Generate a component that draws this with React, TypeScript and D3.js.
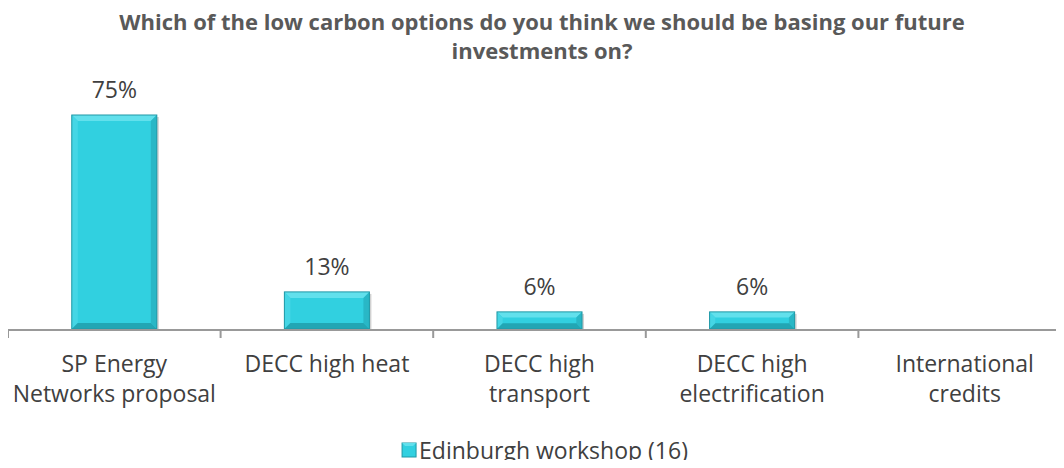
import * as React from "react";
import * as d3 from "d3";

const categories = [
  ["SP Energy", "Networks proposal"],
  ["DECC high heat"],
  ["DECC high", "transport"],
  ["DECC high", "electrification"],
  ["International", "credits"],
];
const values = [75, 13, 6, 6, null];
const seriesName = "Edinburgh workshop (16)";
const titleLines = [
  "Which of the low carbon options do you think we should be basing our future",
  "investments on?",
];

const W = 1064;
const H = 468;
const FONT = "'Open Sans', 'Liberation Sans', sans-serif";

function drawChart(svgRef: React.RefObject<SVGSVGElement>) {
  const svg = d3.select(svgRef.current);
  svg.selectAll("*").remove();
  svg.attr("width", W).attr("height", H).style("display", "block");

  const base = 329;
  const x = d3
    .scaleBand()
    .domain(categories.map((_, i) => `${i}`))
    .range([8, 1071])
    .padding(0);
  const y = d3.scaleLinear().domain([0, 75]).range([base, 115]);

  // title
  svg
    .append("g")
    .selectAll("text")
    .data(titleLines)
    .join("text")
    .attr("x", 542)
    .attr("y", (d, i) => 30 + i * 29)
    .attr("text-anchor", "middle")
    .attr("font-family", FONT)
    .attr("font-weight", "bold")
    .attr("font-size", 22)
    .attr("fill", "#595959")
    .text((d) => d);

  // bars (bevelled)
  const bw = x.bandwidth() * 0.4;
  const bev = 6;
  const bars = svg.append("g");
  values.forEach((v, i) => {
    if (v == null) return;
    const cx = x(`${i}`)! + x.bandwidth() / 2;
    const x0 = cx - bw / 2;
    const x1 = cx + bw / 2;
    const y0 = y(v);
    const y1 = base;
    const b = Math.min(bev, (y1 - y0) / 3);
    const g = bars.append("g");
    // shadow
    g.append("rect")
      .attr("x", x0 + 2)
      .attr("y", y0 + 2)
      .attr("width", bw)
      .attr("height", y1 - y0)
      .attr("fill", "#000")
      .attr("opacity", 0.18);
    g.append("rect")
      .attr("x", x0)
      .attr("y", y0)
      .attr("width", bw)
      .attr("height", y1 - y0)
      .attr("fill", "#31d0e0");
    const poly = (pts: number[][], fill: string) =>
      g.append("polygon").attr("points", pts.map((p) => p.join(",")).join(" ")).attr("fill", fill);
    poly([[x0, y0], [x1, y0], [x1 - b, y0 + b], [x0 + b, y0 + b]], "#62e0ec");
    poly([[x0, y0], [x0 + b, y0 + b], [x0 + b, y1 - b], [x0, y1]], "#45d6e5");
    poly([[x1, y0], [x1, y1], [x1 - b, y1 - b], [x1 - b, y0 + b]], "#29b7c6");
    poly([[x0, y1], [x0 + b, y1 - b], [x1 - b, y1 - b], [x1, y1]], "#22a6b4");
    g.append("rect")
      .attr("x", x0)
      .attr("y", y0)
      .attr("width", bw)
      .attr("height", y1 - y0)
      .attr("fill", "none")
      .attr("stroke", "#2098a6")
      .attr("stroke-width", 1);
  });

  // value labels
  svg
    .append("g")
    .selectAll("text")
    .data(values.map((v, i) => ({ v, i })).filter((d) => d.v != null))
    .join("text")
    .attr("x", (d) => x(`${d.i}`)! + x.bandwidth() / 2)
    .attr("y", (d) => y(d.v as number) - 17)
    .attr("text-anchor", "middle")
    .attr("font-family", FONT)
    .attr("font-size", 23)
    .attr("fill", "#404040")
    .text((d) => `${d.v}%`);

  // axis
  const ax = svg.append("g").attr("stroke", "#999").attr("stroke-width", 2);
  ax.append("line").attr("x1", 7).attr("x2", W).attr("y1", base + 1).attr("y2", base + 1);
  const ticks = categories.map((_, i) => x(`${i}`)!).concat([x.range()[1]]);
  ax.selectAll("line.tick")
    .data(ticks)
    .join("line")
    .attr("class", "tick")
    .attr("x1", (d) => d)
    .attr("x2", (d) => d)
    .attr("y1", base + 1)
    .attr("y2", base + 9);

  // category labels
  const cl = svg.append("g");
  categories.forEach((lines, i) => {
    cl.append("text")
      .attr("text-anchor", "middle")
      .attr("font-family", FONT)
      .attr("font-size", 23)
      .attr("fill", "#404040")
      .selectAll("tspan")
      .data(lines)
      .join("tspan")
      .attr("x", x(`${i}`)! + x.bandwidth() / 2)
      .attr("y", (d, j) => 372 + j * 30)
      .text((d) => d);
  });

  // legend
  const lg = svg.append("g");
  const lt = lg
    .append("text")
    .attr("x", 0)
    .attr("y", 459)
    .attr("font-family", FONT)
    .attr("font-size", 23)
    .attr("fill", "#404040")
    .text(seriesName);
  const tw = (lt.node() as SVGTextElement).getComputedTextLength();
  const total = 14 + 3 + tw;
  const lx = 545 - total / 2;
  lt.attr("x", lx + 17);
  lg.append("rect").attr("x", lx).attr("y", 443).attr("width", 14).attr("height", 14).attr("fill", "#31d0e0").attr("stroke", "#2098a6");
  lg.append("polygon").attr("points", `${lx},443 ${lx + 14},443 ${lx + 11},446 ${lx + 3},446`).attr("fill", "#62e0ec");
}

export default function App() {
  const svg = React.useRef<SVGSVGElement>(null);
  React.useEffect(() => {
    drawChart(svg);
  }, [svg]);
  return (
    <div style={{ margin: -8 }}>
      <svg ref={svg} />
    </div>
  );
}
